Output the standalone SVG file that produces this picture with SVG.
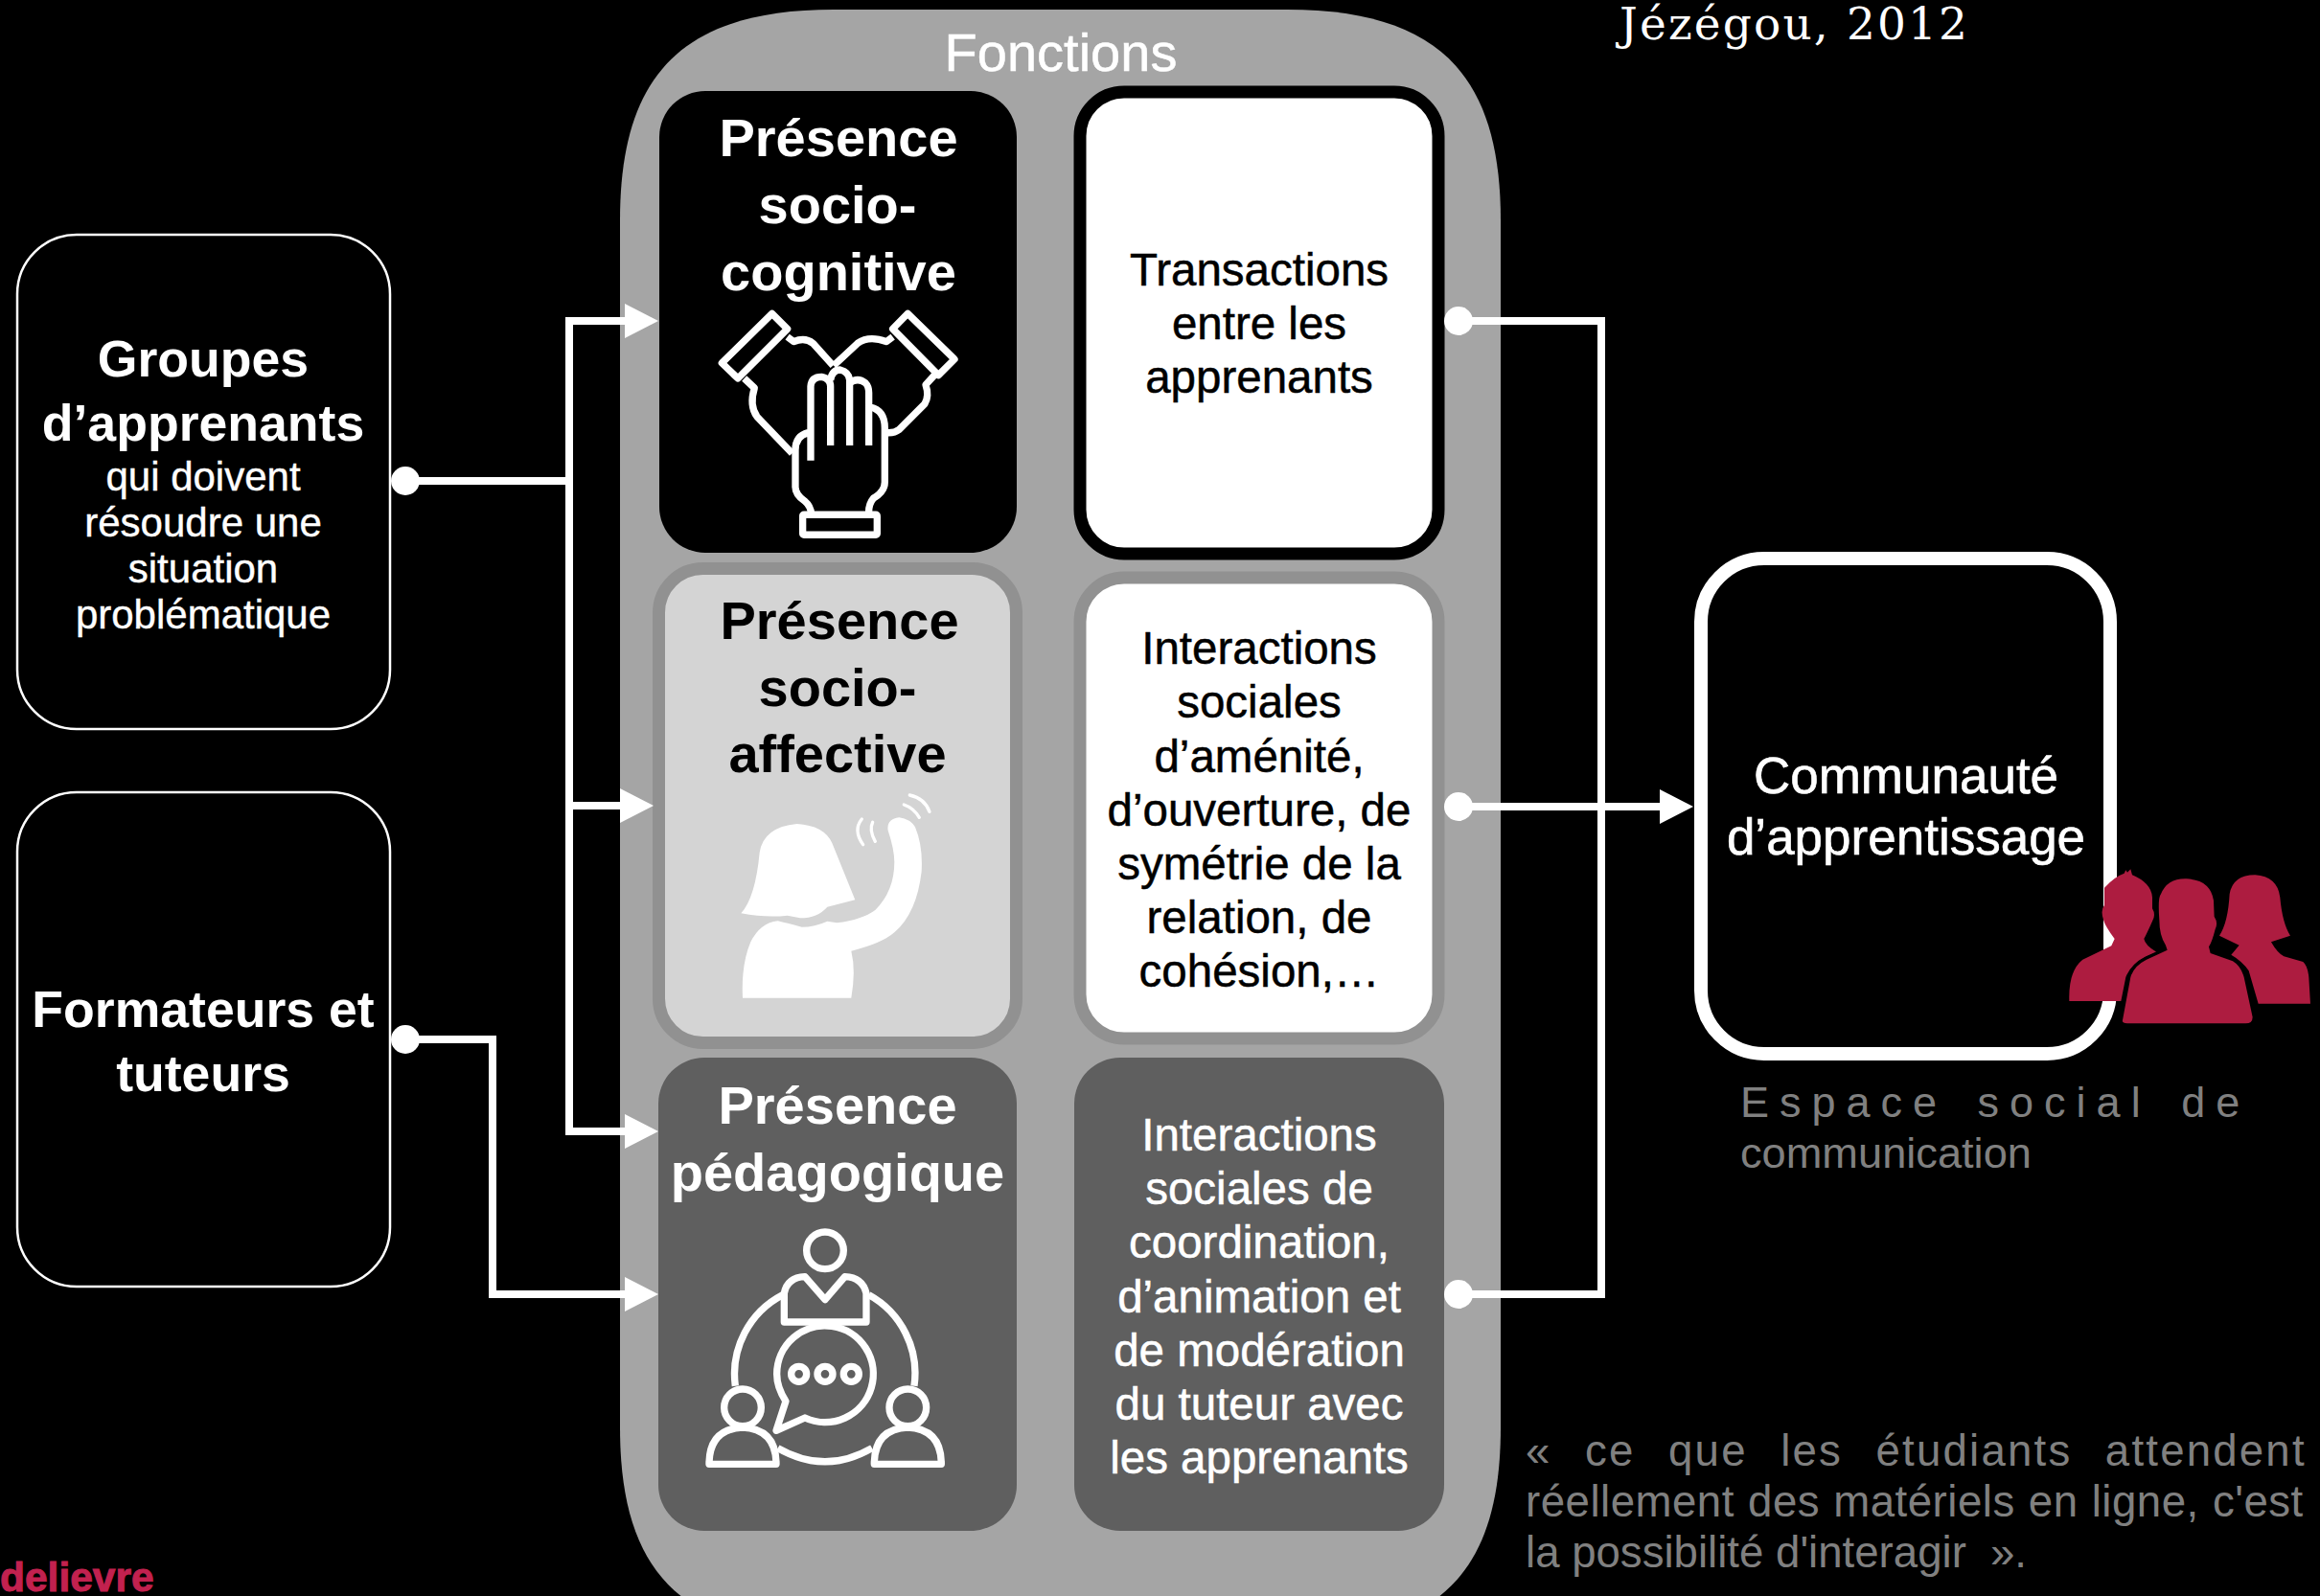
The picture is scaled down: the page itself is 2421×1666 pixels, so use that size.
<svg xmlns="http://www.w3.org/2000/svg" width="2421" height="1666" viewBox="0 0 2421 1666">
<style>
text{font-family:"Liberation Sans",Arial,sans-serif;text-anchor:middle}
.b{font-weight:700;fill:#fff}
.t56{font-size:56px}
.t54{font-size:53.600px}
.r42{font-size:42px;fill:#fff;stroke:#fff;stroke-width:.4}
.r46{font-size:47.500px;fill:#fff;stroke:#fff;stroke-width:.5}
.k46{font-size:47.500px;fill:#000;stroke:#000;stroke-width:.5}
.c53{font-size:53px;fill:#fff;stroke:#fff;stroke-width:.6}
.g{font-size:45.600px;fill:#808080;text-anchor:start}
.ln{fill:none;stroke:#fff;stroke-width:22;stroke-linejoin:round;stroke-linecap:butt}
.cn{fill:none;stroke:#fff;stroke-width:8;stroke-linejoin:miter}
.lb{fill:#000;stroke:#fff;stroke-width:2.500}
.p{fill:#ad1c40}
</style>
<defs>
<marker id="arrow" markerUnits="userSpaceOnUse" markerWidth="36" markerHeight="38" refX="0" refY="19" orient="auto"><path d="M0,1L35,19L0,37Z" fill="#fff"/></marker>
<marker id="dot" markerUnits="userSpaceOnUse" markerWidth="32" markerHeight="32" refX="16" refY="16"><circle cx="16" cy="16" r="15" fill="#fff"/></marker>
</defs>
<rect width="2421" height="1666" fill="#000"/>
<path id="container" d="M647,230C647,80 710,10 870,10H1343C1503,10 1566,80 1566,230V1490C1566,1640 1503,1708 1343,1708H870C710,1708 647,1640 647,1490Z" fill="#a5a5a5"/>
<text x="1107" y="74" style="font-size:56px;fill:#fff;stroke:#fff;stroke-width:.5">Fonctions</text>

<g id="groupes">
<rect class="lb" x="18" y="245" width="389" height="516" rx="62"/>
<text class="b t54" x="212" y="393">Groupes</text>
<text class="b t54" x="212" y="460">d’apprenants</text>
<text class="r42" x="212" y="512">qui doivent</text>
<text class="r42" x="212" y="560">résoudre une</text>
<text class="r42" x="212" y="608">situation</text>
<text class="r42" x="212" y="656">problématique</text>
</g>
<g id="formateurs">
<rect class="lb" x="18" y="827" width="389" height="516" rx="62"/>
<text class="b t54" x="212" y="1072">Formateurs et</text>
<text class="b t54" x="212" y="1139">tuteurs</text>
</g>

<g id="socio-cognitive">
<rect x="688" y="95" width="373" height="482" rx="48" fill="#000"/>
<text class="b t56" x="875" y="163">Présence</text>
<text class="b t56" x="874" y="233">socio-</text>
<text class="b t56" x="875" y="303">cognitive</text>
<g transform="translate(640,80) scale(.3333)" class="ln">
<path d="M497,742L545,790L390,945L340,897Z"/>
<path d="M545,815L565,830Q600,815 625,835L688,905M410,945L442,975Q425,1030 450,1065L560,1180"/>
<path d="M922,742L875,790L1018,935L1068,885Z"/>
<path d="M875,815L855,830Q800,810 765,835L690,905M1010,930L978,965Q990,1000 975,1025L895,1105Q880,1117 855,1115"/>
<path d="M618,1202L618,970Q620,940 652,940Q680,945 680,970L680,1155M680,950Q685,918 710,918Q738,925 740,950L740,1155M740,960Q765,940 790,960Q800,970 800,990L800,1155M805,1035Q850,1045 850,1100L850,1270Q850,1300 815,1320Q798,1340 800,1370M610,1115Q570,1125 570,1170L570,1285Q570,1310 600,1330Q618,1345 620,1370"/>
<rect x="593" y="1372" width="233" height="63" rx="4"/>
</g>
</g>

<g id="transactions">
<rect x="1127" y="96" width="374" height="482" rx="46" fill="#fff" stroke="#000" stroke-width="13"/>
<text class="k46" x="1314" y="298">Transactions</text>
<text class="k46" x="1314" y="354">entre les</text>
<text class="k46" x="1314" y="410">apprenants</text>
</g>

<g id="socio-affective">
<rect x="687.500" y="593.500" width="373" height="495" rx="46" fill="#d4d4d4" stroke="#919191" stroke-width="13"/>
<text class="b t56" x="876" y="667" style="fill:#000">Présence</text>
<text class="b t56" x="874" y="737" style="fill:#000">socio-</text>
<text class="b t56" x="874" y="806" style="fill:#000">affective</text>
<g transform="translate(660,800) scale(.3333)">
<path fill="#fff" d="M340,460Q385,410 398,270Q410,190 515,180Q600,185 625,240L697,418L610,440Q580,475 525,475L485,467Q420,475 340,460Z"/>
<path fill="#fff" d="M345,725Q340,620 370,550Q400,490 455,484Q480,490 530,503Q570,503 610,485L640,490Q720,480 760,450Q820,390 820,300Q820,260 800,200Q795,165 835,160Q870,165 885,190Q910,250 905,330Q890,460 820,520Q780,555 685,578Q700,640 685,725Z"/>
<path fill="none" stroke="#fff" stroke-width="10" stroke-linecap="round" d="M718,165Q690,200 722,245M752,175Q740,200 760,235M850,120Q880,130 898,160M868,90Q915,100 930,142"/>
</g>
</g>

<g id="interactions-amenite">
<rect x="1127" y="603" width="374" height="481" rx="46" fill="#fff" stroke="#919191" stroke-width="13"/>
<text class="k46" x="1314" y="693">Interactions</text>
<text class="k46" x="1314" y="749">sociales</text>
<text class="k46" x="1314" y="806">d’aménité,</text>
<text class="k46" x="1314" y="862">d’ouverture, de</text>
<text class="k46" x="1314" y="918">symétrie de la</text>
<text class="k46" x="1314" y="974">relation, de</text>
<text class="k46" x="1314" y="1030">cohésion,…</text>
</g>

<g id="pedagogique">
<rect x="687" y="1104" width="374" height="494" rx="48" fill="#5f5f5f"/>
<text class="b t56" x="874" y="1173">Présence</text>
<text class="b t56" x="874" y="1243">pédagogique</text>
<g transform="translate(680,1240) scale(.3333)" class="ln">
<circle cx="543" cy="196" r="58"/>
<path d="M415,420L415,330Q425,280 480,278L543,350L605,278Q660,280 672,330L672,420Z"/>
<path d="M410,335A280,280 0 0 0 262,620M680,335A280,280 0 0 1 822,620M395,815Q543,900 690,815"/>
<path d="M420,668Q392,625 392,583A151,151 0 1 1 480,720L390,760Z"/>
<circle cx="461" cy="583" r="24"/><circle cx="543" cy="583" r="24"/><circle cx="625" cy="583" r="24"/>
<circle cx="285" cy="688" r="58"/><path d="M180,865Q180,755 285,750Q390,755 390,865Z"/>
<circle cx="802" cy="688" r="58"/><path d="M697,865Q697,755 802,750Q907,755 907,865Z"/>
</g>
</g>

<g id="interactions-tuteur">
<rect x="1121" y="1104" width="386" height="494" rx="48" fill="#5f5f5f"/>
<text class="r46" x="1314" y="1201">Interactions</text>
<text class="r46" x="1314" y="1257">sociales de</text>
<text class="r46" x="1314" y="1313">coordination,</text>
<text class="r46" x="1314" y="1370">d’animation et</text>
<text class="r46" x="1314" y="1426">de modération</text>
<text class="r46" x="1314" y="1482">du tuteur avec</text>
<text class="r46" x="1314" y="1538">les apprenants</text>
</g>

<g id="communaute">
<rect x="1775" y="583" width="427" height="517" rx="66" fill="#000" stroke="#fff" stroke-width="14"/>
<text class="c53" x="1989" y="828">Communauté</text>
<text class="c53" x="1989" y="892">d’apprentissage</text>
<g transform="translate(2140,880) scale(.3333)">
<path class="p" d="M58,495Q55,400 100,365L190,322L200,300Q170,260 165,240Q155,210 168,195L168,140Q200,105 230,95L235,85L240,92L250,82L255,100Q315,125 318,170L318,205Q330,225 318,245Q300,285 292,300Q295,320 332,342L300,355Q250,380 235,420L220,495Z"/>
<path class="p" d="M528,290Q555,250 560,160Q570,100 640,100Q710,105 718,170Q725,250 750,290L690,310Q710,345 730,355L790,372Q805,385 808,420L813,503L650,503L620,400Q600,370 565,350L590,320Z"/>
<path class="p" stroke="#000" stroke-width="20" paint-order="stroke" d="M225,555L250,420Q260,385 300,365L365,335L360,320Q340,290 340,240Q335,170 345,160Q365,110 425,112Q500,115 510,180L512,230Q525,250 515,270Q505,310 495,325L500,345L570,370Q595,385 605,420L632,545Q632,565 610,565L240,565Q222,565 225,555Z"/>
</g>
</g>

<g id="connectors">
<path class="cn" marker-start="url(#dot)" marker-end="url(#arrow)" d="M423,502H594V335H652"/>
<path class="cn" marker-end="url(#arrow)" d="M594,502V1181H652"/>
<path class="cn" marker-end="url(#arrow)" d="M594,841H647"/>
<path class="cn" marker-start="url(#dot)" marker-end="url(#arrow)" d="M423,1085H514V1351H652"/>
<path class="cn" marker-start="url(#dot)" d="M1522,335H1671V1351H1522"/>
<circle cx="1522" cy="1351" r="15" fill="#fff"/>
<path class="cn" marker-start="url(#dot)" marker-end="url(#arrow)" d="M1522,842H1732"/>
</g>

<g id="labels">
<text x="1690" y="41" style="font-family:'DejaVu Serif',serif;font-size:47px;fill:#fff;text-anchor:start" textLength="363">Jézégou, 2012</text>
<text class="g" x="1816" y="1166" style="font-size:45px;letter-spacing:11px;word-spacing:8px">Espace social de</text>
<text class="g" x="1816" y="1219" style="font-size:45.200px">communication</text>
<text class="g" x="1592" y="1530" style="letter-spacing:2.200px;word-spacing:19.600px">« ce que les étudiants attendent</text>
<text class="g" x="1592" y="1583" style="letter-spacing:.5px;word-spacing:1px">réellement des matériels en ligne, c'est</text>
<text class="g" x="1592" y="1636">la possibilité d'interagir<tspan x="2077">».</tspan></text>
<text x="0" y="1661" style="font-size:42.500px;font-weight:700;fill:#c2214f;stroke:#c2214f;stroke-width:1;text-anchor:start">delievre</text>
</g>
</svg>
